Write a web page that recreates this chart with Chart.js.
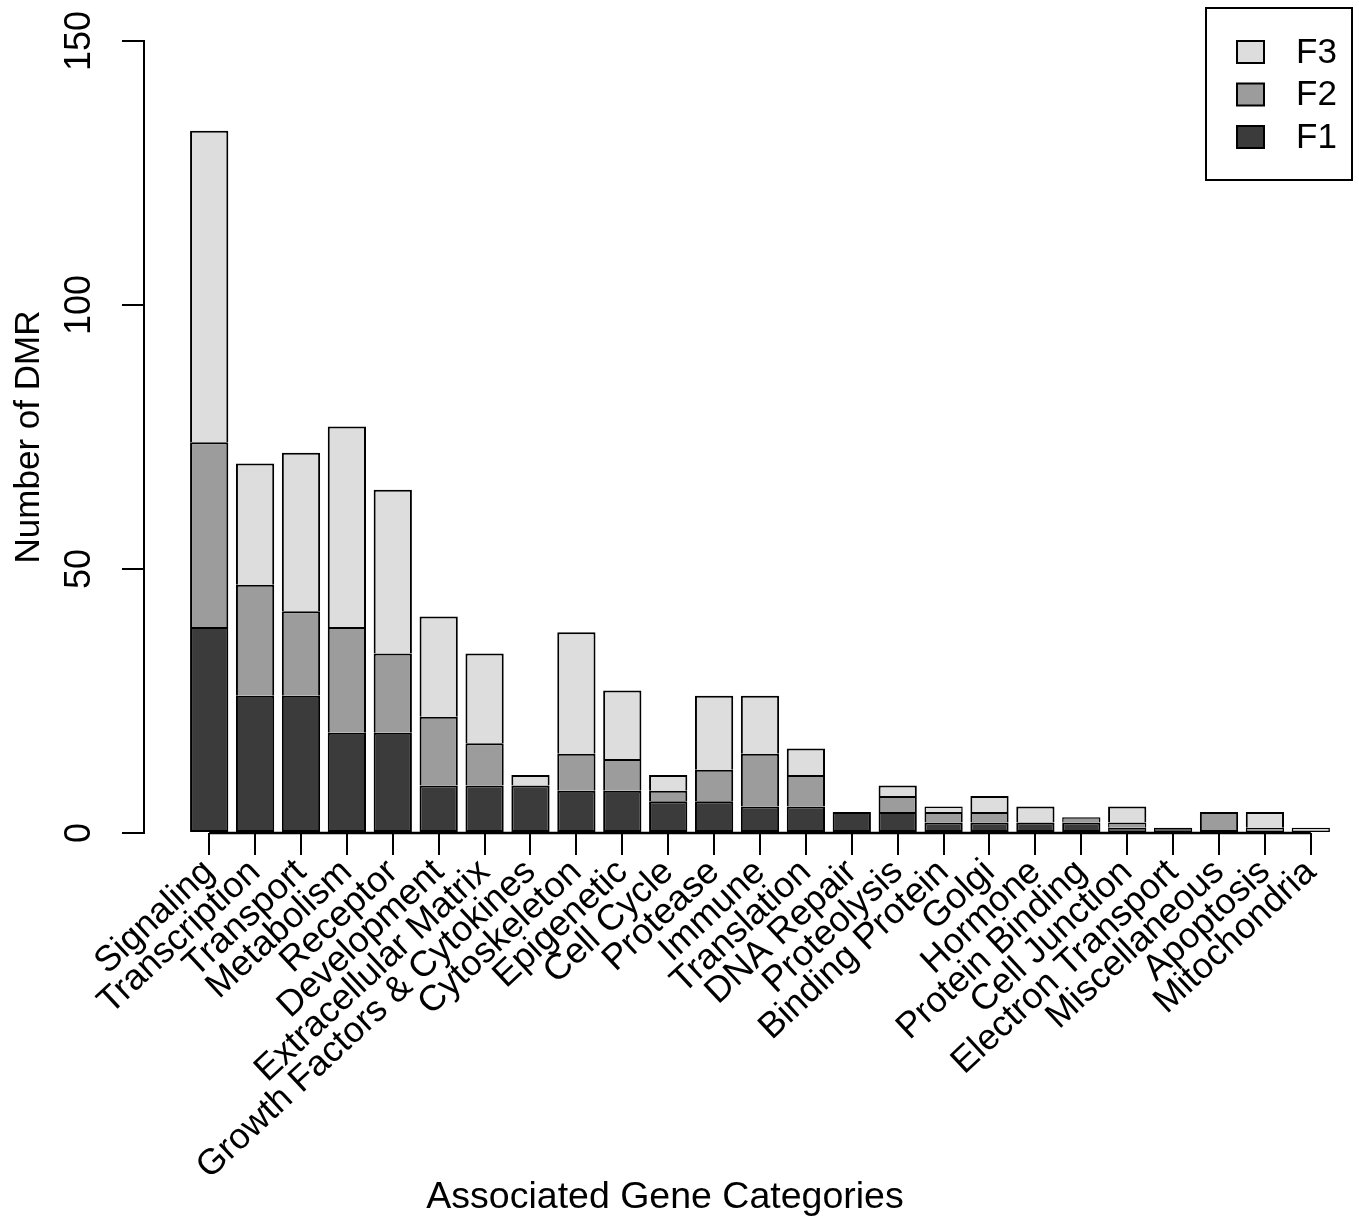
<!DOCTYPE html>
<html lang="en">
<head>
  <meta charset="UTF-8" />
  <title>Number of DMR by Associated Gene Categories</title>
  <script src="https://cdn.jsdelivr.net/npm/chart.js"></script>
  <style>
    html, body { margin: 0; padding: 0; background: #fff; }
    canvas { display: block; }
  </style>
</head>
<body>
  <canvas id="dmrChart" width="1359" height="1220"></canvas>

  <script>
    const categories = [
      "Signaling", "Transcription", "Transport", "Metabolism", "Receptor",
      "Development", "Extracellular Matrix", "Growth Factors & Cytokines",
      "Cytoskeleton", "Epigenetic", "Cell Cycle", "Protease", "Immune",
      "Translation", "DNA Repair", "Proteolysis", "Binding Protein", "Golgi",
      "Hormone", "Protein Binding", "Cell Junction", "Electron Transport",
      "Miscellaneous", "Apoptosis", "Mitochondria"
    ];
    const f1 = [39, 26, 26, 19, 19, 9, 9, 9, 8, 8, 6, 6, 5, 5, 4, 4, 2, 2, 2, 2, 1, 1, 0, 0, 0];
    const f2 = [35, 21, 16, 20, 15, 13, 8, 0, 7, 6, 2, 6, 10, 6, 0, 3, 2, 2, 0, 1, 1, 0, 4, 1, 0];
    const f3 = [59, 23, 30, 38, 31, 19, 17, 2, 23, 13, 3, 14, 11, 5, 0, 2, 1, 3, 3, 0, 3, 0, 0, 3, 1];
    const yTicks = [0, 50, 100, 150];

    const series = [
      { label: "F1", values: f1, color: "#3b3b3b" },
      { label: "F2", values: f2, color: "#9c9c9c" },
      { label: "F3", values: f3, color: "#dddddd" }
    ];

    const fam = "'Liberation Sans', Arial, sans-serif";

    // skip the bottom edge where a segment sits on another one
    function skipFor(seriesIndex) {
      return ctx => {
        let below = 0;
        for (let s = 0; s < seriesIndex; s++) below += series[s].values[ctx.dataIndex];
        return below > 0 ? "start" : false;
      };
    }

    // R style bits: axis line between first and last tick, x title, boxed legend
    const rStyle = {
      id: "rStyle",
      afterDraw(chart) {
        const c = chart.ctx;
        const xs = chart.scales.x, ys = chart.scales.y;
        c.save();
        c.strokeStyle = "#000";
        c.lineWidth = 2.5;
        const y0 = ys.getPixelForValue(0);
        c.beginPath();
        c.moveTo(xs.getPixelForValue(0), y0);
        c.lineTo(xs.getPixelForValue(categories.length - 1), y0);
        c.stroke();

        c.fillStyle = "#000";
        c.font = "37.5px " + fam;
        c.textAlign = "center";
        c.textBaseline = "middle";
        c.fillText("Associated Gene Categories", 665, 1198);

        c.lineWidth = 2;
        c.strokeRect(1206, 8, 146, 172);
        c.font = "35px " + fam;
        c.textAlign = "left";
        chart.data.datasets.slice().reverse().forEach((ds, i) => {
          const cy = 52 + i * 42.5;
          c.fillStyle = ds.backgroundColor;
          c.fillRect(1237, cy - 11, 27, 22);
          c.strokeRect(1237, cy - 11, 27, 22);
          c.fillStyle = "#000";
          c.fillText(ds.label, 1296, cy + 1);
        });
        c.restore();
      }
    };

    new Chart(document.getElementById("dmrChart"), {
      type: "bar",
      data: {
        datasets: series.map((s, si) => ({
          label: s.label,
          data: s.values.map((v, i) => ({ x: i, y: v })),
          backgroundColor: s.color,
          borderColor: "#000",
          borderWidth: ctx => (ctx.raw && ctx.raw.y <= 1 ? 1.5 : 2),
          borderSkipped: skipFor(si),
          stack: "dmr",
          categoryPercentage: 1,
          barPercentage: 1 / 1.2
        }))
      },
      options: {
        responsive: false,
        animation: false,
        devicePixelRatio: 1,
        layout: { padding: { top: 41, right: 0, left: 0, bottom: 0 } },
        plugins: { legend: { display: false }, tooltip: { enabled: false } },
        scales: {
          x: {
            type: "linear",
            offset: false,
            min: -1.42,
            max: 25.05,
            afterBuildTicks: s => { s.ticks = categories.map((c, i) => ({ value: i })); },
            afterFit: s => { s.height = 387; },
            border: { display: false },
            grid: { offset: false, drawOnChartArea: false, drawTicks: true, tickLength: 22, color: "#000", lineWidth: 2 },
            ticks: {
              autoSkip: false, minRotation: 43, maxRotation: 43, padding: -4,
              color: "#000", font: { family: fam, size: 36 },
              callback: v => categories[v]
            }
          },
          y: {
            min: 0,
            max: 150,
            stacked: true,
            afterBuildTicks: s => { s.ticks = yTicks.map(v => ({ value: v })); },
            afterFit: s => { s.width = 144; },
            border: { display: true, color: "#000", width: 2 },
            grid: { drawOnChartArea: false, drawTicks: true, tickLength: 22, color: "#000", lineWidth: 2 },
            ticks: {
              minRotation: 90, maxRotation: 90, crossAlign: "center", padding: 12,
              color: "#000", font: { family: fam, size: 36 }
            },
            title: {
              display: true, text: "Number of DMR", color: "#000",
              font: { family: fam, size: 35, lineHeight: 1.2 },
              padding: { top: 8, bottom: 0 }
            }
          }
        }
      },
      plugins: [rStyle]
    });
  </script>
</body>
</html>
